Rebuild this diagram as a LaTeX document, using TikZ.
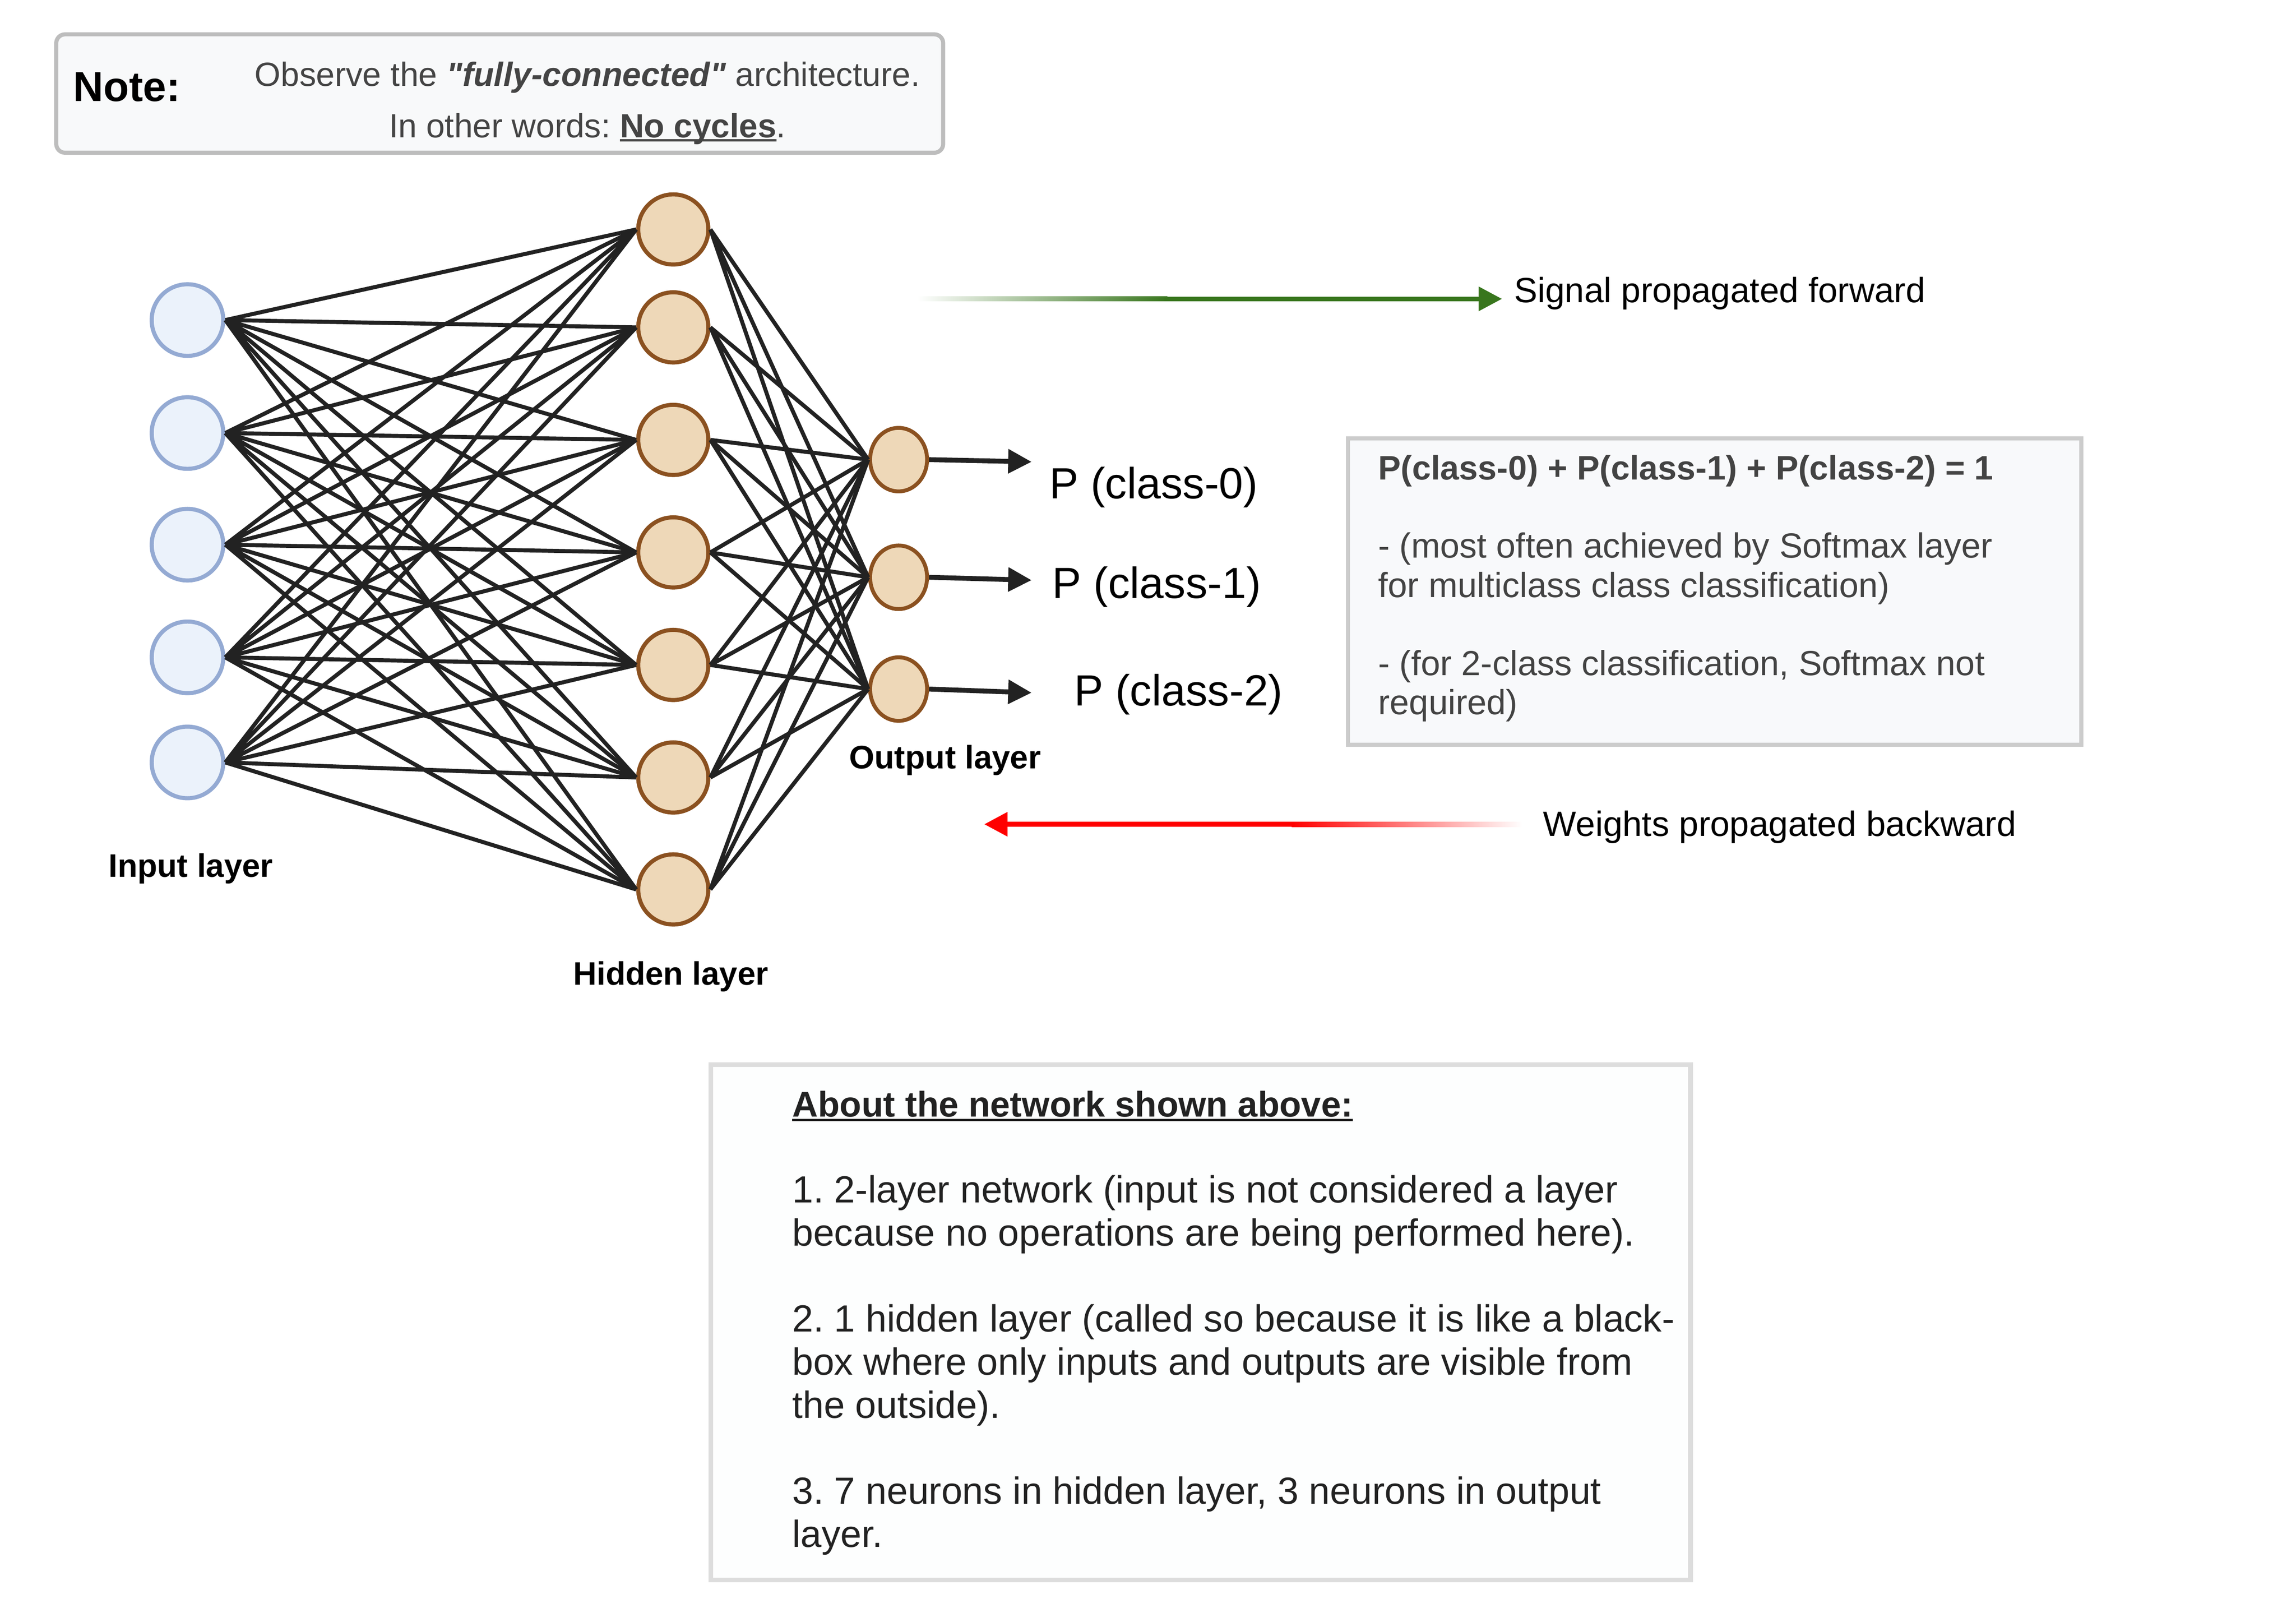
\documentclass[tikz,border=0pt]{standalone}
\usepackage{fontspec}
\setmainfont{Liberation Sans}
\usetikzlibrary{arrows.meta,shapes.geometric}

\newcommand{\lineunder}[2][2.4pt]{\setbox0\hbox{#2}\rlap{\rule[-#1]{\wd0}{1.2pt}}\box0}

\begin{document}
\frenchspacing
\begin{tikzpicture}[x=0.75pt,y=0.75pt,yscale=-1,xscale=1,
  inneuron/.style={circle,draw={rgb, 255:red, 148; green, 170; blue, 211},fill={rgb, 255:red, 235; green, 242; blue, 251},line width=2.1pt,minimum size=36.75pt,inner sep=0pt},
  hidneuron/.style={circle,draw={rgb, 255:red, 139; green, 81; blue, 32},fill={rgb, 255:red, 238; green, 216; blue, 184},line width=2.1pt,minimum size=36pt,inner sep=0pt},
  outneuron/.style={ellipse,draw={rgb, 255:red, 139; green, 81; blue, 32},fill={rgb, 255:red, 238; green, 216; blue, 184},line width=2pt,minimum width=29.25pt,minimum height=32.6pt,inner sep=0pt},
  wire/.style={draw={rgb, 255:red, 34; green, 34; blue, 34},line width=2.05pt},
  probarrow/.style={draw={rgb, 255:red, 34; green, 34; blue, 34},line width=2.5pt,-{Triangle[length=12pt,width=12pt]}},
  lbl/.style={inner sep=0pt,anchor=base west},
  layerlbl/.style={inner sep=0pt,anchor=base west,font=\fontsize{16.7pt}{20pt}\selectfont\bfseries}
]
\useasboundingbox (0,0) rectangle (1571.4,1100);

%Note box
\draw [draw={rgb, 255:red, 189; green, 189; blue, 189},fill={rgb, 255:red, 248; green, 249; blue, 250},line width=2.1pt,rounded corners=4.5pt] (38.5,23.5) rectangle (645.5,104.5);
% Text Node
\node [lbl,font=\fontsize{21.5pt}{25pt}\selectfont\bfseries] (notehead) at (50,69.4) {Note:};
% Text Node (base = last line)
\node [inner sep=0pt,anchor=base,align=center,text={rgb, 255:red, 68; green, 68; blue, 68},font=\fontsize{17.2pt}{26.25pt}\selectfont] (notetxt) at (402,94) {Observe the \textbf{\textit{\textquotedbl fully-connected\textquotedbl}} architecture.\\In other words: \lineunder[2pt]{\textbf{No cycles}}.};

%Input layer
\node [inneuron] (i1) at (128.3,219) {};
\node [inneuron] (i2) at (128.3,296.3) {};
\node [inneuron] (i3) at (128.3,372.7) {};
\node [inneuron] (i4) at (128.3,449.8) {};
\node [inneuron] (i5) at (128.3,521.7) {};

%Hidden layer
\node [hidneuron] (h1) at (460.8,157) {};
\node [hidneuron] (h2) at (460.8,224) {};
\node [hidneuron] (h3) at (460.8,301) {};
\node [hidneuron] (h4) at (460.8,378) {};
\node [hidneuron] (h5) at (460.8,455) {};
\node [hidneuron] (h6) at (460.8,532) {};
\node [hidneuron] (h7) at (460.8,608.6) {};

%Output layer
\node [outneuron] (o1) at (615,314.5) {};
\node [outneuron] (o2) at (615,395) {};
\node [outneuron] (o3) at (615,471.5) {};

%Input to hidden
\draw [wire] (i1.east) -- (h1.west) (i1.east) -- (h2.west) (i1.east) -- (h3.west) (i1.east) -- (h4.west) (i1.east) -- (h5.west) (i1.east) -- (h6.west) (i1.east) -- (h7.west);
\draw [wire] (i2.east) -- (h1.west) (i2.east) -- (h2.west) (i2.east) -- (h3.west) (i2.east) -- (h4.west) (i2.east) -- (h5.west) (i2.east) -- (h6.west) (i2.east) -- (h7.west);
\draw [wire] (i3.east) -- (h1.west) (i3.east) -- (h2.west) (i3.east) -- (h3.west) (i3.east) -- (h4.west) (i3.east) -- (h5.west) (i3.east) -- (h6.west) (i3.east) -- (h7.west);
\draw [wire] (i4.east) -- (h1.west) (i4.east) -- (h2.west) (i4.east) -- (h3.west) (i4.east) -- (h4.west) (i4.east) -- (h5.west) (i4.east) -- (h6.west) (i4.east) -- (h7.west);
\draw [wire] (i5.east) -- (h1.west) (i5.east) -- (h2.west) (i5.east) -- (h3.west) (i5.east) -- (h4.west) (i5.east) -- (h5.west) (i5.east) -- (h6.west) (i5.east) -- (h7.west);

%Hidden to output
\draw [wire] (h1.east) -- (o1.west) (h1.east) -- (o2.west) (h1.east) -- (o3.west);
\draw [wire] (h2.east) -- (o1.west) (h2.east) -- (o2.west) (h2.east) -- (o3.west);
\draw [wire] (h3.east) -- (o1.west) (h3.east) -- (o2.west) (h3.east) -- (o3.west);
\draw [wire] (h4.east) -- (o1.west) (h4.east) -- (o2.west) (h4.east) -- (o3.west);
\draw [wire] (h5.east) -- (o1.west) (h5.east) -- (o2.west) (h5.east) -- (o3.west);
\draw [wire] (h6.east) -- (o1.west) (h6.east) -- (o2.west) (h6.east) -- (o3.west);
\draw [wire] (h7.east) -- (o1.west) (h7.east) -- (o2.west) (h7.east) -- (o3.west);

%Output arrows
\coordinate (t1) at (706,316);
\coordinate (t2) at (706,397);
\coordinate (t3) at (706,474);
\draw [probarrow] (o1.east) -- (t1);
\draw [probarrow] (o2.east) -- (t2);
\draw [probarrow] (o3.east) -- (t3);
% Text Node
\node [lbl,font=\fontsize{22.4pt}{26pt}\selectfont] (p0) at (718,341) {P (class-0)};
\node [lbl,font=\fontsize{22.4pt}{26pt}\selectfont] (p1) at (720,409.4) {P (class-1)};
\node [lbl,font=\fontsize{22.4pt}{26pt}\selectfont] (p2) at (735,483) {P (class-2)};

% Layer labels
\node [layerlbl] (inlbl) at (74,600) {Input layer};
\node [layerlbl] (hidlbl) at (392,674) {Hidden layer};
\node [layerlbl] (outlbl) at (581,526) {Output layer};

%Signal arrow
\coordinate (fwdmid) at (797,204.5);
\coordinate (fwdhead) at (1028,204.5);
\shade [left color=white,right color={rgb, 255:red, 56; green, 118; blue, 29}] (628,202.9) rectangle (799,206.1);
\draw [draw={rgb, 255:red, 56; green, 118; blue, 29},fill={rgb, 255:red, 56; green, 118; blue, 29},line width=2.4pt,-{Triangle[length=12pt,width=12pt]}] (fwdmid) -- (fwdhead);
\node [lbl,font=\fontsize{18pt}{22pt}\selectfont] (fwdtxt) at (1036,207) {Signal propagated forward};

%Weights arrow
\coordinate (bwdmid) at (886,564);
\coordinate (bwdhead) at (673.6,564);
\shade [left color={rgb, 255:red, 255; green, 0; blue, 0},right color=white] (884,562.3) rectangle (1042,565.7);
\draw [draw={rgb, 255:red, 255; green, 0; blue, 0},fill={rgb, 255:red, 255; green, 0; blue, 0},line width=2.5pt,-{Triangle[length=12pt,width=12pt]}] (bwdmid) -- (bwdhead);
\node [lbl,font=\fontsize{18pt}{22pt}\selectfont] (bwdtxt) at (1056,572) {Weights propagated backward};

%Sum box
\draw [draw={rgb, 255:red, 204; green, 204; blue, 204},fill={rgb, 255:red, 248; green, 249; blue, 251},line width=2.2pt] (922.5,300) rectangle (1424.5,509.5);
% Text Node (base = last line)
\node [lbl,align=left,text={rgb, 255:red, 67; green, 67; blue, 67},font=\fontsize{17.9pt}{20.1pt}\selectfont] (sumtxt) at (943,489) {{\fontsize{17.4pt}{20.1pt}\selectfont\bfseries P(class-0) + P(class-1) + P(class-2) = 1}\\[20.1pt]- (most often achieved by Softmax layer\\for multiclass class classification)\\[20.1pt]- (for 2-class classification, Softmax not\\required)};

%About box
\draw [draw={rgb, 255:red, 221; green, 221; blue, 221},fill={rgb, 255:red, 253; green, 254; blue, 254},line width=2.4pt] (486.5,728.5) rectangle (1157,1081);
% Text Node (base = last line)
\node [lbl,align=left,text={rgb, 255:red, 34; green, 34; blue, 34},font=\fontsize{19.4pt}{22.1pt}\selectfont] (abouttxt) at (542,1058.7) {\lineunder{\fontsize{18.3pt}{22.1pt}\selectfont\bfseries About the network shown above:}\\[22.1pt]1. 2-layer network (input is not considered a layer\\because no operations are being performed here).\\[22.1pt]2. 1 hidden layer (called so because it is like a black-\\box where only inputs and outputs are visible from\\the outside).\\[22.1pt]3. 7 neurons in hidden layer, 3 neurons in output\\layer.};

\end{tikzpicture}
\end{document}
